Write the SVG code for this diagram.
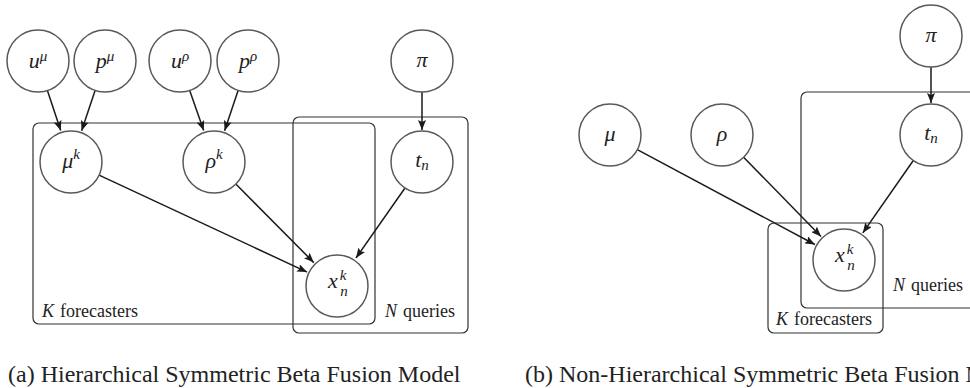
<svg xmlns="http://www.w3.org/2000/svg" width="970" height="388" viewBox="0 0 970 388">
<defs>
<marker id="ah" markerUnits="userSpaceOnUse" markerWidth="11" markerHeight="8" refX="10" refY="4" orient="auto">
<path d="M0,0 L10,4 L0,8 L2,4 z" fill="#1a1a1a"/>
</marker>
</defs>
<style>
text{font-family:"Liberation Serif","Times New Roman",serif;fill:#222}
.node circle{fill:#fff;stroke:#595959;stroke-width:1.5}
.m{font-style:italic;font-size:22px;text-anchor:middle}
.s{font-size:15px}
.plate{fill:none;stroke:#333;stroke-width:1.2}
.lbl{font-size:18px}
.it{font-style:italic}
.cap{font-size:24px}
.edges line{stroke:#1a1a1a;stroke-width:1.5;marker-end:url(#ah)}
</style>
<rect width="970" height="388" fill="#fff"/>

<!-- plates (a) -->
<g id="plateK_a">
<rect class="plate" x="33" y="123" width="342" height="201" rx="6"/>
<text class="lbl" x="42" y="317" font-family="Liberation Serif, serif"><tspan class="it">K</tspan><tspan dx="6">forecasters</tspan></text>
</g>
<g id="plateN_a">
<rect class="plate" x="293" y="117" width="175" height="216" rx="6"/>
<text class="lbl" x="385" y="317" font-family="Liberation Serif, serif"><tspan class="it">N</tspan><tspan dx="6">queries</tspan></text>
</g>

<!-- plates (b) -->
<g id="plateN_b">
<rect class="plate" x="801" y="92" width="200" height="216" rx="6"/>
<text class="lbl" x="893" y="291" font-family="Liberation Serif, serif"><tspan class="it">N</tspan><tspan dx="6">queries</tspan></text>
</g>
<g id="plateK_b">
<rect class="plate" x="768" y="223" width="115" height="110" rx="6"/>
<text class="lbl" x="776" y="325" font-family="Liberation Serif, serif"><tspan class="it">K</tspan><tspan dx="6">forecasters</tspan></text>
</g>

<!-- connectors -->
<g class="edges" id="edges">
<line x1="47.4" y1="90.5" x2="60.7" y2="130.6"/>
<line x1="95.1" y1="90.4" x2="81.6" y2="130.7"/>
<line x1="189.7" y1="90.5" x2="203.7" y2="130.6"/>
<line x1="238.1" y1="90.4" x2="224.6" y2="130.7"/>
<line x1="422" y1="92" x2="422" y2="130"/>
<line x1="99.1" y1="175.1" x2="307.1" y2="272.1"/>
<line x1="235.8" y1="184" x2="313.8" y2="262.6"/>
<line x1="405" y1="188" x2="356" y2="258"/>
<line x1="931" y1="67" x2="931" y2="103"/>
<line x1="637.3" y1="149.6" x2="814.9" y2="244.5"/>
<line x1="743.6" y1="157.2" x2="821" y2="236.4"/>
<line x1="913.3" y1="160.5" x2="862.8" y2="232.9"/>
</g>

<!-- nodes (a) -->
<g id="u_mu" class="node"><circle cx="38" cy="61" r="31"/><text class="m" x="38" y="68">u<tspan class="s" dy="-7">μ</tspan></text></g>
<g id="p_mu" class="node"><circle cx="105" cy="61" r="31"/><text class="m" x="105" y="68">p<tspan class="s" dy="-7">μ</tspan></text></g>
<g id="u_rho" class="node"><circle cx="180" cy="61" r="31"/><text class="m" x="180" y="68">u<tspan class="s" dy="-7">ρ</tspan></text></g>
<g id="p_rho" class="node"><circle cx="248" cy="61" r="31"/><text class="m" x="248" y="68">p<tspan class="s" dy="-7">ρ</tspan></text></g>
<g id="pi_a" class="node"><circle cx="422" cy="61" r="31"/><text class="m" x="422" y="67">π</text></g>
<g id="mu_k" class="node"><circle cx="71" cy="162" r="31"/><text class="m" x="71" y="168">μ<tspan class="s" dy="-9">k</tspan></text></g>
<g id="rho_k" class="node"><circle cx="214" cy="162" r="31"/><text class="m" x="214" y="168">ρ<tspan class="s" dy="-9">k</tspan></text></g>
<g id="t_n_a" class="node"><circle cx="422" cy="162" r="31"/><text class="m" x="422" y="167">t<tspan class="s" dy="3">n</tspan></text></g>
<g id="x_nk_a" class="node"><circle cx="337" cy="286" r="31"/><text class="m" x="333" y="288">x</text><text class="m s" x="343" y="280">k</text><text class="m s" x="344" y="296">n</text></g>

<!-- nodes (b) -->
<g id="pi_b" class="node"><circle cx="931" cy="36" r="31"/><text class="m" x="931" y="42">π</text></g>
<g id="mu" class="node"><circle cx="610" cy="135" r="31"/><text class="m" x="610" y="141">μ</text></g>
<g id="rho" class="node"><circle cx="722" cy="135" r="31"/><text class="m" x="722" y="141">ρ</text></g>
<g id="t_n_b" class="node"><circle cx="931" cy="135" r="31"/><text class="m" x="931" y="140">t<tspan class="s" dy="3">n</tspan></text></g>
<g id="x_nk_b" class="node"><circle cx="844" cy="260" r="31"/><text class="m" x="840" y="262">x</text><text class="m s" x="850" y="254">k</text><text class="m s" x="851" y="270">n</text></g>

<!-- captions -->
<text class="cap" x="8" y="382">(a) Hierarchical Symmetric Beta Fusion Model</text>
<text class="cap" x="525" y="382">(b) Non-Hierarchical Symmetric Beta Fusion Model</text>
</svg>
